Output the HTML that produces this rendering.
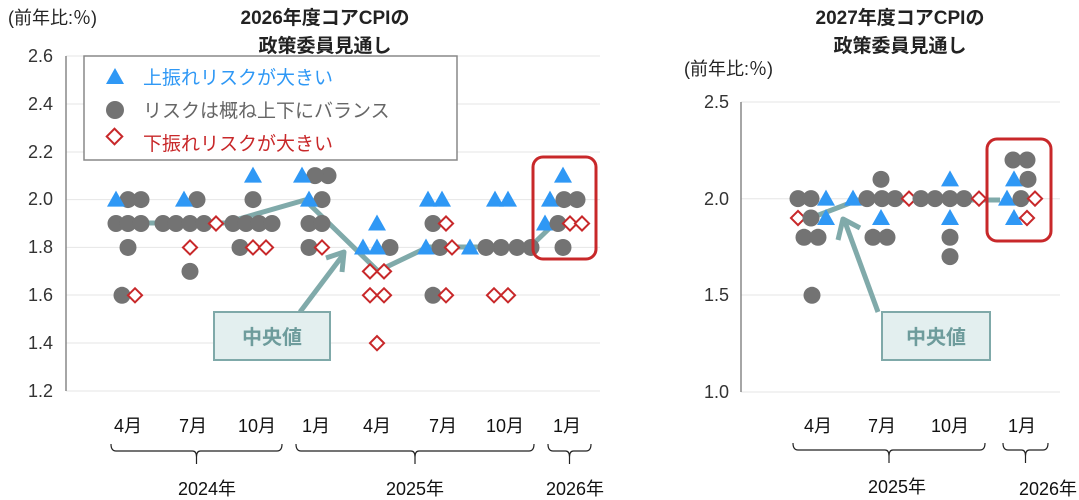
<!DOCTYPE html>
<html><head><meta charset="utf-8"><style>
html,body{margin:0;padding:0;background:#fff;}
svg{display:block;font-family:"Liberation Sans","Noto Sans CJK JP",sans-serif;}
</style></head><body>
<svg id="s" width="1079" height="500" viewBox="0 0 1079 500" xmlns="http://www.w3.org/2000/svg">
<g stroke="#e6e6e6" stroke-width="1">
<line x1="66" x2="600" y1="56" y2="56"/><line x1="66" x2="600" y1="104" y2="104"/><line x1="66" x2="600" y1="152" y2="152"/><line x1="66" x2="600" y1="199.6" y2="199.6"/><line x1="66" x2="600" y1="247.4" y2="247.4"/><line x1="66" x2="600" y1="295" y2="295"/><line x1="66" x2="600" y1="343" y2="343"/><line x1="66" x2="600" y1="391" y2="391"/>
<line x1="741" x2="1060" y1="102" y2="102"/><line x1="741" x2="1060" y1="198.7" y2="198.7"/><line x1="741" x2="1060" y1="295" y2="295"/><line x1="741" x2="1060" y1="392" y2="392"/>
</g>
<g stroke="#888" stroke-width="1.5">
<line x1="66" y1="56" x2="66" y2="391"/>
<line x1="741" y1="102" x2="741" y2="392"/>
</g>
<g fill="#333" font-size="18" text-anchor="end">
<text x="53" y="62">2.6</text><text x="53" y="110">2.4</text><text x="53" y="158">2.2</text><text x="53" y="205">2.0</text><text x="53" y="253">1.8</text><text x="53" y="301">1.6</text><text x="53" y="349">1.4</text><text x="53" y="397">1.2</text>
<text x="729" y="108">2.5</text><text x="729" y="205">2.0</text><text x="729" y="301">1.5</text><text x="729" y="398">1.0</text>
</g>
<g fill="#222" font-size="18">
<text x="8" y="24">(前年比:％)</text>
<text x="684" y="75">(前年比:％)</text>
</g>
<g fill="#222" font-size="19" font-weight="bold" text-anchor="middle">
<text x="325" y="24">2026年度コアCPIの</text>
<text x="325" y="52">政策委員見通し</text>
<text x="900" y="24">2027年度コアCPIの</text>
<text x="900" y="52">政策委員見通し</text>
</g>
<g stroke="#80aaaa" stroke-width="5" fill="none" stroke-linejoin="round">
<polyline points="141,223 225,223 305,200 378,271 428,247 530,247 555,223"/>
<polyline points="816,216 858,200 1000,200"/>
<line x1="300" y1="312" x2="343" y2="255"/><polyline points="326,258 344,252 342,272"/>
<line x1="878" y1="312" x2="845" y2="222"/><polyline points="838,240 843,219 860,228"/>
</g>
<g id="m"></g>
<rect x="533" y="157" width="63" height="102" rx="10" fill="none" stroke="#c8282a" stroke-width="3"/>
<rect x="987" y="139" width="64" height="102" rx="10" fill="none" stroke="#c8282a" stroke-width="3"/>
<rect x="214" y="312" width="116" height="48" fill="#e3efef" stroke="#7fa9a9" stroke-width="2"/>
<text x="272" y="344" font-size="20" font-weight="bold" fill="#6e9c9c" text-anchor="middle">中央値</text>
<rect x="882" y="312" width="108" height="48" fill="#e3efef" stroke="#7fa9a9" stroke-width="2"/>
<text x="936" y="344" font-size="20" font-weight="bold" fill="#6e9c9c" text-anchor="middle">中央値</text>
<rect x="84" y="56" width="373" height="104" fill="#fff" stroke="#888" stroke-width="1.5"/>
<polygon points="115,68 106,84 124,84" fill="#2f98f5"/>
<circle cx="115" cy="110" r="9" fill="#737373"/>
<rect x="109" y="131" width="11" height="11" fill="#fff" stroke="#c8282a" stroke-width="2" transform="rotate(45 114.5 136.5)"/>
<g font-size="19">
<text x="143" y="84" fill="#2f98f5">上振れリスクが大きい</text>
<text x="143" y="117" fill="#666">リスクは概ね上下にバランス</text>
<text x="143" y="150" fill="#c8282a">下振れリスクが大きい</text>
</g>
<g font-size="18" fill="#111" text-anchor="middle">
<text x="128" y="432">4月</text><text x="193" y="432">7月</text><text x="257" y="432">10月</text><text x="316" y="432">1月</text><text x="377" y="432">4月</text><text x="443" y="432">7月</text><text x="505" y="432">10月</text><text x="567" y="432">1月</text>
<text x="207" y="495">2024年</text><text x="415" y="495">2025年</text><text x="575" y="495">2026年</text>
<text x="818" y="432">4月</text><text x="882" y="432">7月</text><text x="950" y="432">10月</text><text x="1022" y="432">1月</text>
<text x="897" y="493">2025年</text><text x="1048" y="495">2026年</text>
</g>
</svg>
<script>
var g=document.getElementById('m'),NS='http://www.w3.org/2000/svg';
function el(t,a){var e=document.createElementNS(NS,t);for(var k in a)e.setAttribute(k,a[k]);g.appendChild(e);}
function T(x,y){el('polygon',{points:(x)+','+(y-9)+' '+(x-9)+','+(y+7)+' '+(x+9)+','+(y+7),fill:'#2f98f5'});}
function C(x,y){el('circle',{cx:x,cy:y,r:8.5,fill:'#737373'});}
function D(x,y){el('rect',{x:x-5,y:y-5,width:10,height:10,fill:'#fff',stroke:'#c8282a','stroke-width':2,transform:'rotate(45 '+x+' '+y+')'});}
function yL(v){return 56+(2.6-v)/0.2*47.86;}
function yR(v){return 102+(2.5-v)*193.3;}
var L=[
['C',141,2.0],['C',128,2.0],['T',116,2.0],['C',116,1.9],['C',128,1.9],['C',141,1.9],['C',128,1.8],['C',122,1.6],['D',135,1.6],
['C',197,2.0],['T',184,2.0],['C',163,1.9],['C',176,1.9],['C',190,1.9],['C',204,1.9],['D',216,1.9],['D',190,1.8],['C',190,1.7],
['T',253,2.1],['C',253,2.0],['C',233,1.9],['C',246,1.9],['C',259,1.9],['C',272,1.9],['C',240,1.8],['D',253,1.8],['D',266,1.8],
['C',328,2.1],['C',315,2.1],['T',302,2.1],['C',322,2.0],['T',309,2.0],['C',309,1.9],['C',322,1.9],['C',309,1.8],['D',322,1.8],
['T',377,1.9],['C',390,1.8],['T',363,1.8],['T',377,1.8],['D',370,1.7],['D',384,1.7],['D',370,1.6],['D',384,1.6],['D',377,1.4],
['T',428,2.0],['T',442,2.0],['C',433,1.9],['D',446,1.9],['T',426,1.8],['C',440,1.8],['D',452,1.8],['C',433,1.6],['D',446,1.6],
['T',495,2.0],['T',508,2.0],['T',470,1.8],['C',531,1.8],['C',517,1.8],['C',501,1.8],['C',486,1.8],['D',494,1.6],['D',508,1.6],
['T',563,2.1],['T',550,2.0],['C',564,2.0],['C',577,2.0],['T',545,1.9],['C',558,1.9],['D',570,1.9],['D',582,1.9],['C',563,1.8]];
L.forEach(function(a){({T:T,C:C,D:D})[a[0]](a[1],yL(a[2]));});
var R=[
['C',798,2.0],['C',811,2.0],['T',826,2.0],['D',798,1.9],['C',811,1.9],['T',826,1.9],['C',804,1.8],['C',818,1.8],['C',812,1.5],
['T',853,2.0],['C',881,2.1],['C',867,2.0],['C',882,2.0],['C',895,2.0],['D',909,2.0],['T',881,1.9],['C',873,1.8],['C',887,1.8],
['T',950,2.1],['C',921,2.0],['C',935,2.0],['C',950,2.0],['C',964,2.0],['D',979,2.0],['T',950,1.9],['C',950,1.8],['C',950,1.7],
['C',1013,2.2],['C',1027,2.2],['T',1014,2.1],['C',1028,2.1],['T',1007,2.0],['C',1021,2.0],['D',1035,2.0],['T',1014,1.9],['D',1027,1.9]];
R.forEach(function(a){({T:T,C:C,D:D})[a[0]](a[1],yR(a[2]));});
var b=document.getElementById('s');
function brace(x1,x2,y){var m=(x1+x2)/2;var p=document.createElementNS(NS,'path');
p.setAttribute('d','M'+x1+','+y+' q0,7 5,7 H'+(m-4)+' q4,0 4,6 v7 M'+(m)+','+(y+13)+' q0,-6 4,-6 H'+(x2-5)+' q5,0 5,-7');
p.setAttribute('stroke','#222');p.setAttribute('stroke-width','1.2');p.setAttribute('fill','none');b.appendChild(p);}
brace(111,282,444);brace(296,534,444);brace(548,591,444);
brace(793,985,443);brace(1003,1048,443);
</script>
</body></html>
